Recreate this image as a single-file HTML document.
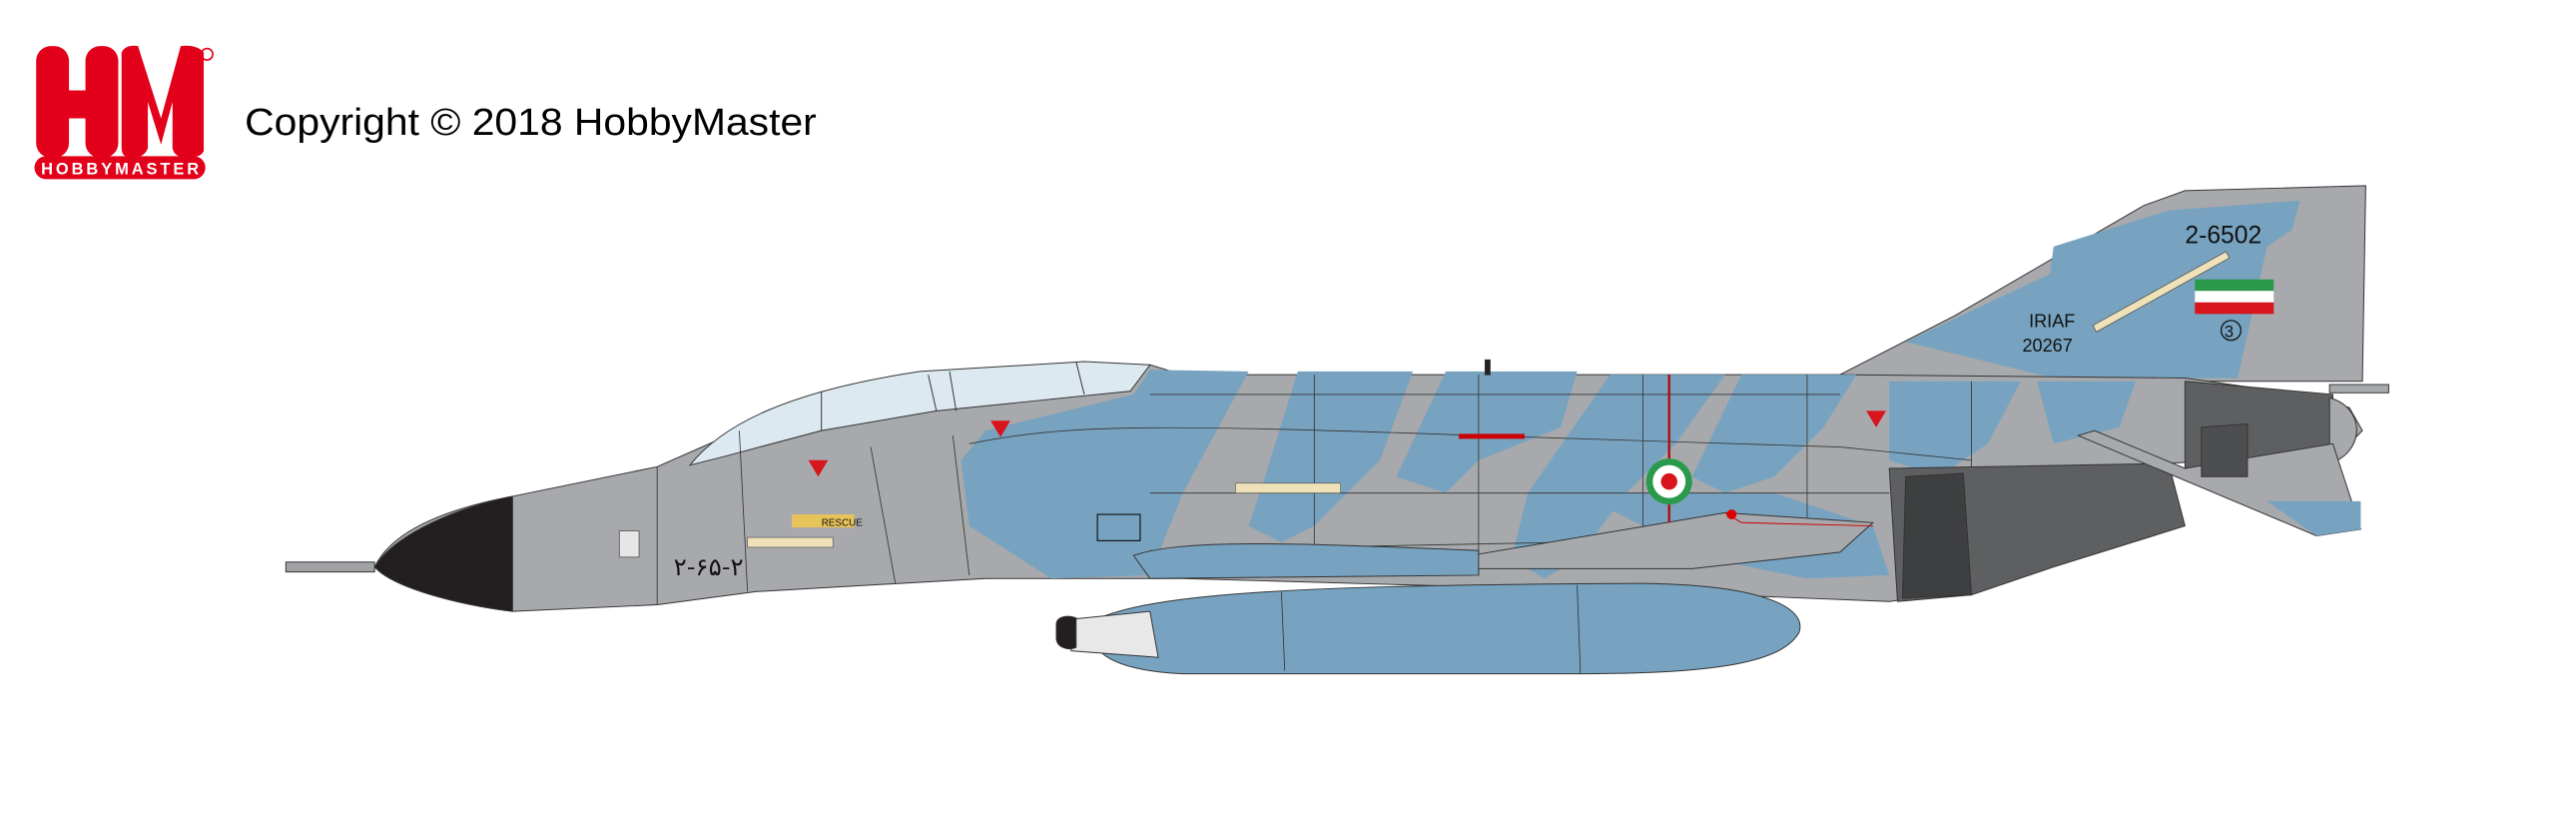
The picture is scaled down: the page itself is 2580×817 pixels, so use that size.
<!DOCTYPE html>
<html><head><meta charset="utf-8"><style>
html,body{margin:0;padding:0;background:#fff;}
svg{display:block}
</style></head><body>
<svg width="2580" height="817" viewBox="0 0 1568 496.5" preserveAspectRatio="none" xmlns="http://www.w3.org/2000/svg">
<rect width="1568" height="497" fill="#fff"/>
<!-- Logo -->
<g fill="#e3001b">
<rect x="22" y="28" width="20" height="68" rx="9"/>
<rect x="52" y="28" width="20" height="68" rx="9"/>
<rect x="30" y="55" width="36" height="17"/>
<path d="M74,32 Q76,27 84,28 L98,72 L110,28 Q120,27 124,32 L124,92 Q122,96 114,96 Q106,96 105,90 L105,62 L98,88 L90,62 L90,90 Q88,96 80,96 Q74,96 74,90 Z"/>
<rect x="21" y="95" width="104" height="14" rx="7"/>
<circle cx="126" cy="33" r="3.5" fill="none" stroke="#e3001b" stroke-width="1"/>
</g>
<text x="73" y="106" font-family="Liberation Sans, sans-serif" font-weight="bold" font-size="10" fill="#fff" text-anchor="middle" textLength="96">HOBBYMASTER</text>
<text x="149" y="82" font-family="Liberation Sans, sans-serif" font-size="23" fill="#000" textLength="348" lengthAdjust="spacingAndGlyphs">Copyright © 2018 HobbyMaster</text>

<g stroke="#333" stroke-width="0.6">
<!-- Fin -->
<path d="M1118,229 L1190,192 L1262,150 L1305,125 L1330,116 L1440,113 L1438,232 L1330,232 Z" fill="#a7a9ac"/>
<path d="M1160,208 L1262,160 L1320,128 L1400,122 L1395,140 L1380,150 L1362,230 L1250,230 Z" fill="#77a3c0" stroke="none"/>
<path d="M1250,150 L1320,128 L1360,140 L1300,180 L1270,225 L1240,228 Z" fill="#77a3c0" stroke="none"/>
<!-- fuselage -->
<path d="M228,345 C240,320 280,308 312,302 L400,284 L450,262 L520,242 L600,229 L700,222 L720,228 L1120,228 L1330,230 L1400,240 L1430,248 L1438,262 L1425,275 L1320,282 L1230,300 L1190,345 L1180,362 L1150,366 L1000,360 L720,352 L600,352 L460,360 L400,368 L312,372 C280,368 240,358 228,345 Z" fill="#a7a9ac"/>
<!-- camo -->
<g fill="#77a3c0" stroke="none">
<path d="M600,262 L690,240 L700,225 L760,226 L720,300 L700,350 L640,352 L590,320 L585,280 Z"/>
<path d="M790,226 L860,226 L840,280 L800,320 L780,330 L760,320 L770,290 Z"/>
<path d="M880,226 L960,226 L950,260 L900,280 L880,300 L850,290 Z"/>
<path d="M980,228 L1050,228 L1020,270 L990,300 L960,340 L940,352 L920,340 L930,300 Z"/>
<path d="M1060,228 L1130,228 L1110,260 L1080,290 L1050,300 L1030,290 Z"/>
<path d="M1150,232 L1230,232 L1210,270 L1180,290 L1150,280 Z"/>
<path d="M1240,232 L1300,232 L1290,260 L1250,270 Z"/>
<path d="M960,300 L1080,300 L1140,320 L1150,350 L1100,352 L1040,340 Z"/>
</g>
<!-- canopy -->
<path d="M420,283 C440,258 480,238 560,226 L660,220 L700,222 L688,238 L570,250 L500,262 L440,278 Z" fill="#dde9f1"/>
<path d="M500,238 L500,262 M565,228 L570,250 M578,226 L582,250 M655,220 L660,240" fill="none"/>
<!-- radome -->
<path d="M312,302 C280,308 240,325 228,345 C240,358 280,368 312,372 Z" fill="#231f20"/>
<rect x="174" y="342" width="54" height="6" fill="#a0a2a5"/>
<!-- panel lines -->
<path d="M400,284 L400,368 M450,262 L455,360 M530,272 L545,355 M580,265 L590,350 M700,240 L1120,240 M590,270 C650,258 700,258 900,265 L1120,272 L1200,280 M700,300 L1150,300 M700,335 L950,330 M800,228 L800,350 M900,228 L900,350 M1000,228 L1000,320 M1100,228 L1100,320 M1200,232 L1200,300" fill="none" stroke-width="0.5"/>
<!-- exhaust -->
<path d="M1150,285 L1320,282 L1330,320 L1250,345 L1200,362 L1155,366 Z" fill="#5e5f61"/>
<path d="M1160,290 L1195,288 L1200,362 L1158,364 Z" fill="#3e3f41"/>
<path d="M1330,232 L1420,240 L1420,285 L1330,290 Z" fill="#5e5f61"/>
<path d="M1418,242 C1440,248 1440,275 1418,282 Z" fill="#a7a9ac"/>
<!-- stabilator -->
<path d="M1265,265 L1275,262 L1330,285 L1420,270 L1437,322 L1410,326 Z" fill="#a7a9ac"/>
<path d="M1380,305 L1437,305 L1437,322 L1410,326 Z" fill="#77a3c0" stroke="none"/>
<path d="M1340,260 L1368,258 L1368,290 L1340,290 Z" fill="#4d4e50"/>
<rect x="1418" y="234" width="36" height="5" fill="#a7a9ac"/>
<!-- wing -->
<path d="M895,338 L1050,312 L1140,318 L1120,336 L1030,346 L900,346 Z" fill="#a7a9ac"/>
<path d="M1050,312 L1060,318 L1140,320" fill="none" stroke="#c00"/>
<circle cx="1054" cy="313" r="3" fill="#d00" stroke="none"/>
<path d="M690,338 C720,328 780,330 900,335 L900,350 L700,352 Z" fill="#77a3c0"/>
<!-- fuel tank -->
<path d="M665,378 C700,360 800,356 1000,355 C1080,356 1100,372 1095,385 C1085,402 1050,410 960,410 L720,410 C680,408 660,398 665,378 Z" fill="#77a3c0"/>
<path d="M650,377 L700,372 L705,400 L652,396 Z" fill="#e8e8e8"/>
<path d="M643,380 C643,375 650,374 655,376 L655,394 C650,396 643,394 643,388 Z" fill="#231f20"/>
<path d="M780,360 L782,408 M960,356 L962,410" fill="none" stroke-width="0.5"/>
<rect x="904" y="219" width="3" height="9" fill="#231f20"/>
</g>
<!-- markings -->
<line x1="1016" y1="228" x2="1016" y2="318" stroke="#b01010" stroke-width="1.5"/>
<circle cx="1016" cy="293" r="14" fill="#2a9a4a"/>
<circle cx="1016" cy="293" r="10" fill="#fff"/>
<circle cx="1016" cy="293" r="5" fill="#d8141c"/>
<rect x="1336" y="170" width="48" height="7" fill="#2a9a4a"/>
<rect x="1336" y="177" width="48" height="7" fill="#fff"/>
<rect x="1336" y="184" width="48" height="7" fill="#d8141c"/>
<path d="M1274,198 L1355,153 L1357,157 L1276,202 Z" fill="#efe2b8" stroke="#555" stroke-width="0.5"/>
<g font-family="Liberation Sans, sans-serif" fill="#111">
<text x="1330" y="148" font-size="15">2-6502</text>
<text x="1235" y="199" font-size="11">IRIAF</text>
<text x="1231" y="214" font-size="11">20267</text>
<text x="1354" y="205" font-size="10">3</text>
<text x="410" y="350" font-size="15" font-family="Noto Sans CJK SC, sans-serif">۲-۶۵-۲</text>
</g>
<circle cx="1358" cy="201" r="6" fill="none" stroke="#111" stroke-width="0.8"/>
<rect x="455" y="327" width="52" height="6" fill="#efe2b8" stroke="#555" stroke-width="0.4"/>
<rect x="752" y="294" width="64" height="6" fill="#efe2b8" stroke="#555" stroke-width="0.4"/>
<rect x="482" y="313" width="38" height="8" fill="#e8c35a"/>
<text x="500" y="320" font-family="Liberation Sans, sans-serif" font-size="6" fill="#111">RESCUE</text>
<rect x="888" y="264" width="40" height="3" fill="#c00"/>
<path d="M492,280 L504,280 L498,290 Z M603,256 L615,256 L609,266 Z M1136,250 L1148,250 L1142,260 Z" fill="#d8141c"/>
<rect x="668" y="313" width="26" height="16" fill="none" stroke="#111" stroke-width="0.7"/>
<rect x="377" y="323" width="12" height="16" fill="#e6e6e6" stroke="#555" stroke-width="0.5"/>
</svg>
</body></html>
